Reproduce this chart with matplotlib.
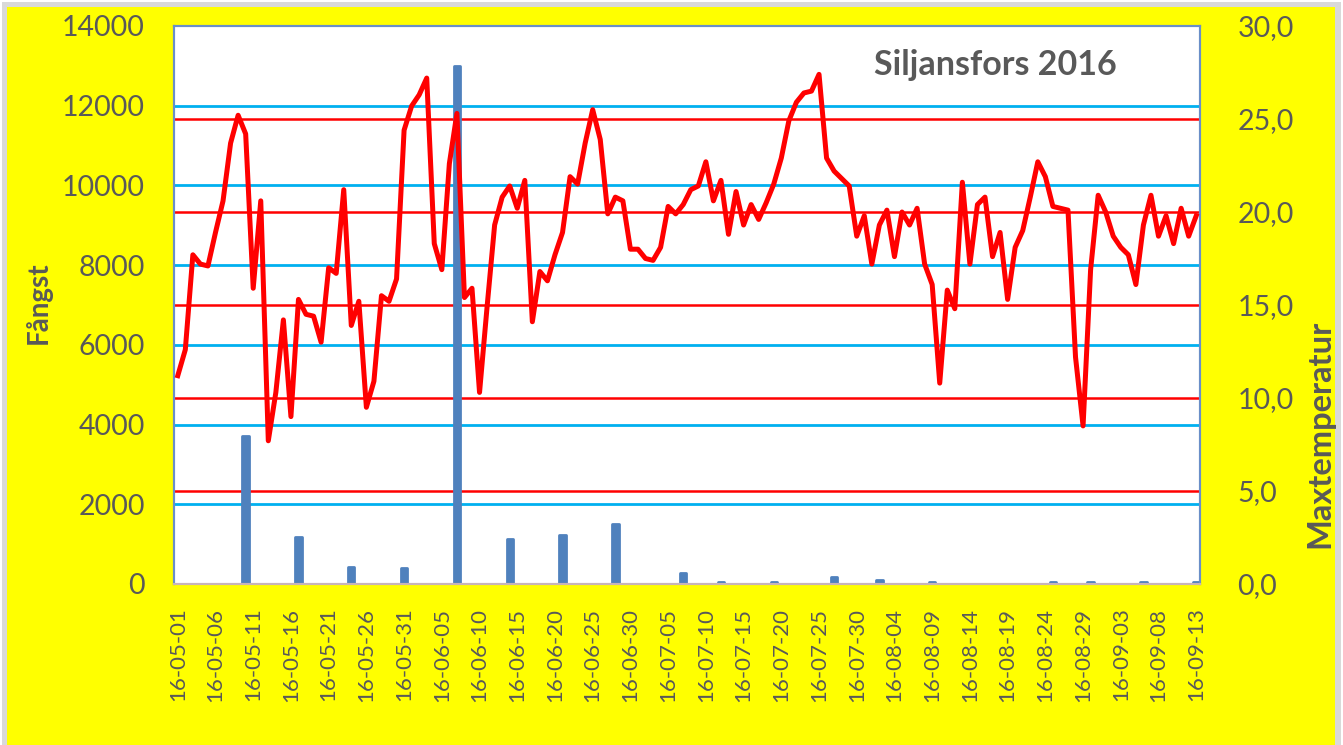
#!/usr/bin/env python3
"""Siljansfors 2016: daily catch (bars) and max temperature (line)."""

import matplotlib
matplotlib.use("Agg")
import matplotlib.pyplot as plt
import pandas as pd
from matplotlib.patches import Rectangle

plt.rcParams["font.family"] = ["Lato", "DejaVu Sans"]

# data
start_date = "2016-05-01"
end_date = "2016-09-13"

max_temp = [
    11.2, 12.6, 17.7, 17.2, 17.1, 18.9, 20.6, 23.7, 25.2, 24.2,
    15.9, 20.6, 7.7, 10.3, 14.2, 9.0, 15.3, 14.5, 14.4, 13.0,
    17.0, 16.7, 21.2, 13.9, 15.2, 9.5, 10.9, 15.5, 15.2, 16.4,
    24.4, 25.7, 26.3, 27.2, 18.3, 16.9, 22.6, 25.3, 15.4, 15.9,
    10.3, 14.9, 19.3, 20.8, 21.4, 20.2, 21.7, 14.1, 16.8, 16.3,
    17.7, 18.9, 21.9, 21.5, 23.7, 25.5, 23.9, 19.9, 20.8, 20.6,
    18.0, 18.0, 17.5, 17.4, 18.1, 20.3, 19.9, 20.4, 21.2, 21.4,
    22.7, 20.6, 21.7, 18.8, 21.1, 19.3, 20.4, 19.6, 20.5, 21.5,
    22.9, 24.9, 25.9, 26.4, 26.5, 27.4, 22.9, 22.2, 21.8, 21.4,
    18.7, 19.8, 17.2, 19.3, 20.1, 17.6, 20.0, 19.3, 20.2, 17.2,
    16.1, 10.8, 15.8, 14.8, 21.6, 17.2, 20.4, 20.8, 17.6, 18.9,
    15.3, 18.1, 19.0, 20.8, 22.7, 21.9, 20.3, 20.2, 20.1, 12.2,
    8.5, 16.9, 20.9, 20.0, 18.7, 18.1, 17.7, 16.1, 19.3, 20.9,
    18.7, 19.8, 18.3, 20.2, 18.7, 19.8,
]

catch_dates = [
    "2016-05-10", "2016-05-17", "2016-05-24", "2016-05-31", "2016-06-07",
    "2016-06-14", "2016-06-21", "2016-06-28", "2016-07-07", "2016-07-12",
    "2016-07-19", "2016-07-27", "2016-08-02", "2016-08-09", "2016-08-25",
    "2016-08-30", "2016-09-06", "2016-09-13",
]
catch_values = [
    3720, 1190, 435, 410, 13000,
    1120, 1230, 1500, 280, 60,
    50, 170, 90, 60, 60,
    50, 50, 50,
]

W, H = 1343, 745
GREY = "#595959"
BAR_BLUE = "#4f81bd"

dates = pd.date_range(start_date, end_date, freq="D")
days = list(range(len(dates)))
catch_idx = [dates.get_loc(pd.Timestamp(d)) for d in catch_dates]

fig = plt.figure(figsize=(W / 100, H / 100), dpi=100)
fig.patch.set_facecolor("white")
fig.patches.append(Rectangle((2 / W, 0), (W - 4) / W, (H - 2) / H, transform=fig.transFigure,
                             facecolor="#d9d9d9", edgecolor="none", zorder=-3))
fig.patches.append(Rectangle((7 / W, 0), (W - 15) / W, (H - 7) / H, transform=fig.transFigure,
                             facecolor="#ffff00", edgecolor="none", zorder=-2))

ax = fig.add_axes([174 / W, (H - 584) / H, (1200 - 174) / W, 558 / H])
ax.set_facecolor("white")
ax2 = ax.twinx()

ax.set_xlim(-0.5, len(dates) - 0.5)
ax.set_ylim(0, 14000)
ax2.set_ylim(0, 30)

# gridlines: blue for left axis, red for right axis (both kept under the bars)
for v in range(2000, 14000, 2000):
    ax.axhline(v, color="#00b0f0", lw=2.0, zorder=0.5)
for t in range(5, 30, 5):
    ax.axhline(t / 30 * 14000, color="#ff0000", lw=1.8, zorder=0.6)

bars = ax.bar(catch_idx, catch_values, width=0.85, color=BAR_BLUE,
              edgecolor=BAR_BLUE, linewidth=2, zorder=2)
for b in bars:
    b.set_joinstyle("round")

ax2.plot(days, max_temp, color="#ff0000", lw=3.6, solid_joinstyle="round", zorder=3)

ax.set_yticks(range(0, 14001, 2000))
ax2.set_yticks(range(0, 31, 5))
ax2.set_yticklabels([f"{t},0" for t in range(0, 31, 5)])
ax.set_xticks(days[::5])
ax.set_xticklabels([d.strftime("%y-%m-%d") for d in dates[::5]], rotation=90)

ax.tick_params(axis="y", length=0, pad=21, labelsize=20.5, labelcolor=GREY)
ax2.tick_params(axis="y", length=0, pad=27, labelsize=20.5, labelcolor=GREY)
ax.tick_params(axis="x", length=0, pad=17, labelsize=16, labelcolor=GREY)

for a in (ax, ax2):
    for side in ("left", "right", "top"):
        a.spines[side].set_color("#6a8fc8")
        a.spines[side].set_linewidth(1.5)
    a.spines["bottom"].set_color("#c8b4b8")
    a.spines["bottom"].set_linewidth(1.5)

fig.text(38 / W, 1 - 303 / H, "Fångst", rotation=90, ha="center", va="center",
         fontsize=20, fontweight="bold", color=GREY)
fig.text(1320 / W, 1 - 434 / H, "Maxtemperatur", rotation=90, ha="center", va="center",
         fontsize=23.5, fontweight="bold", color=GREY)
fig.text(995 / W, 1 - 65 / H, "Siljansfors 2016", ha="center", va="center",
         fontsize=24.5, fontweight="bold", color=GREY)

fig.savefig("out.png", dpi=100)
plt.close(fig)
